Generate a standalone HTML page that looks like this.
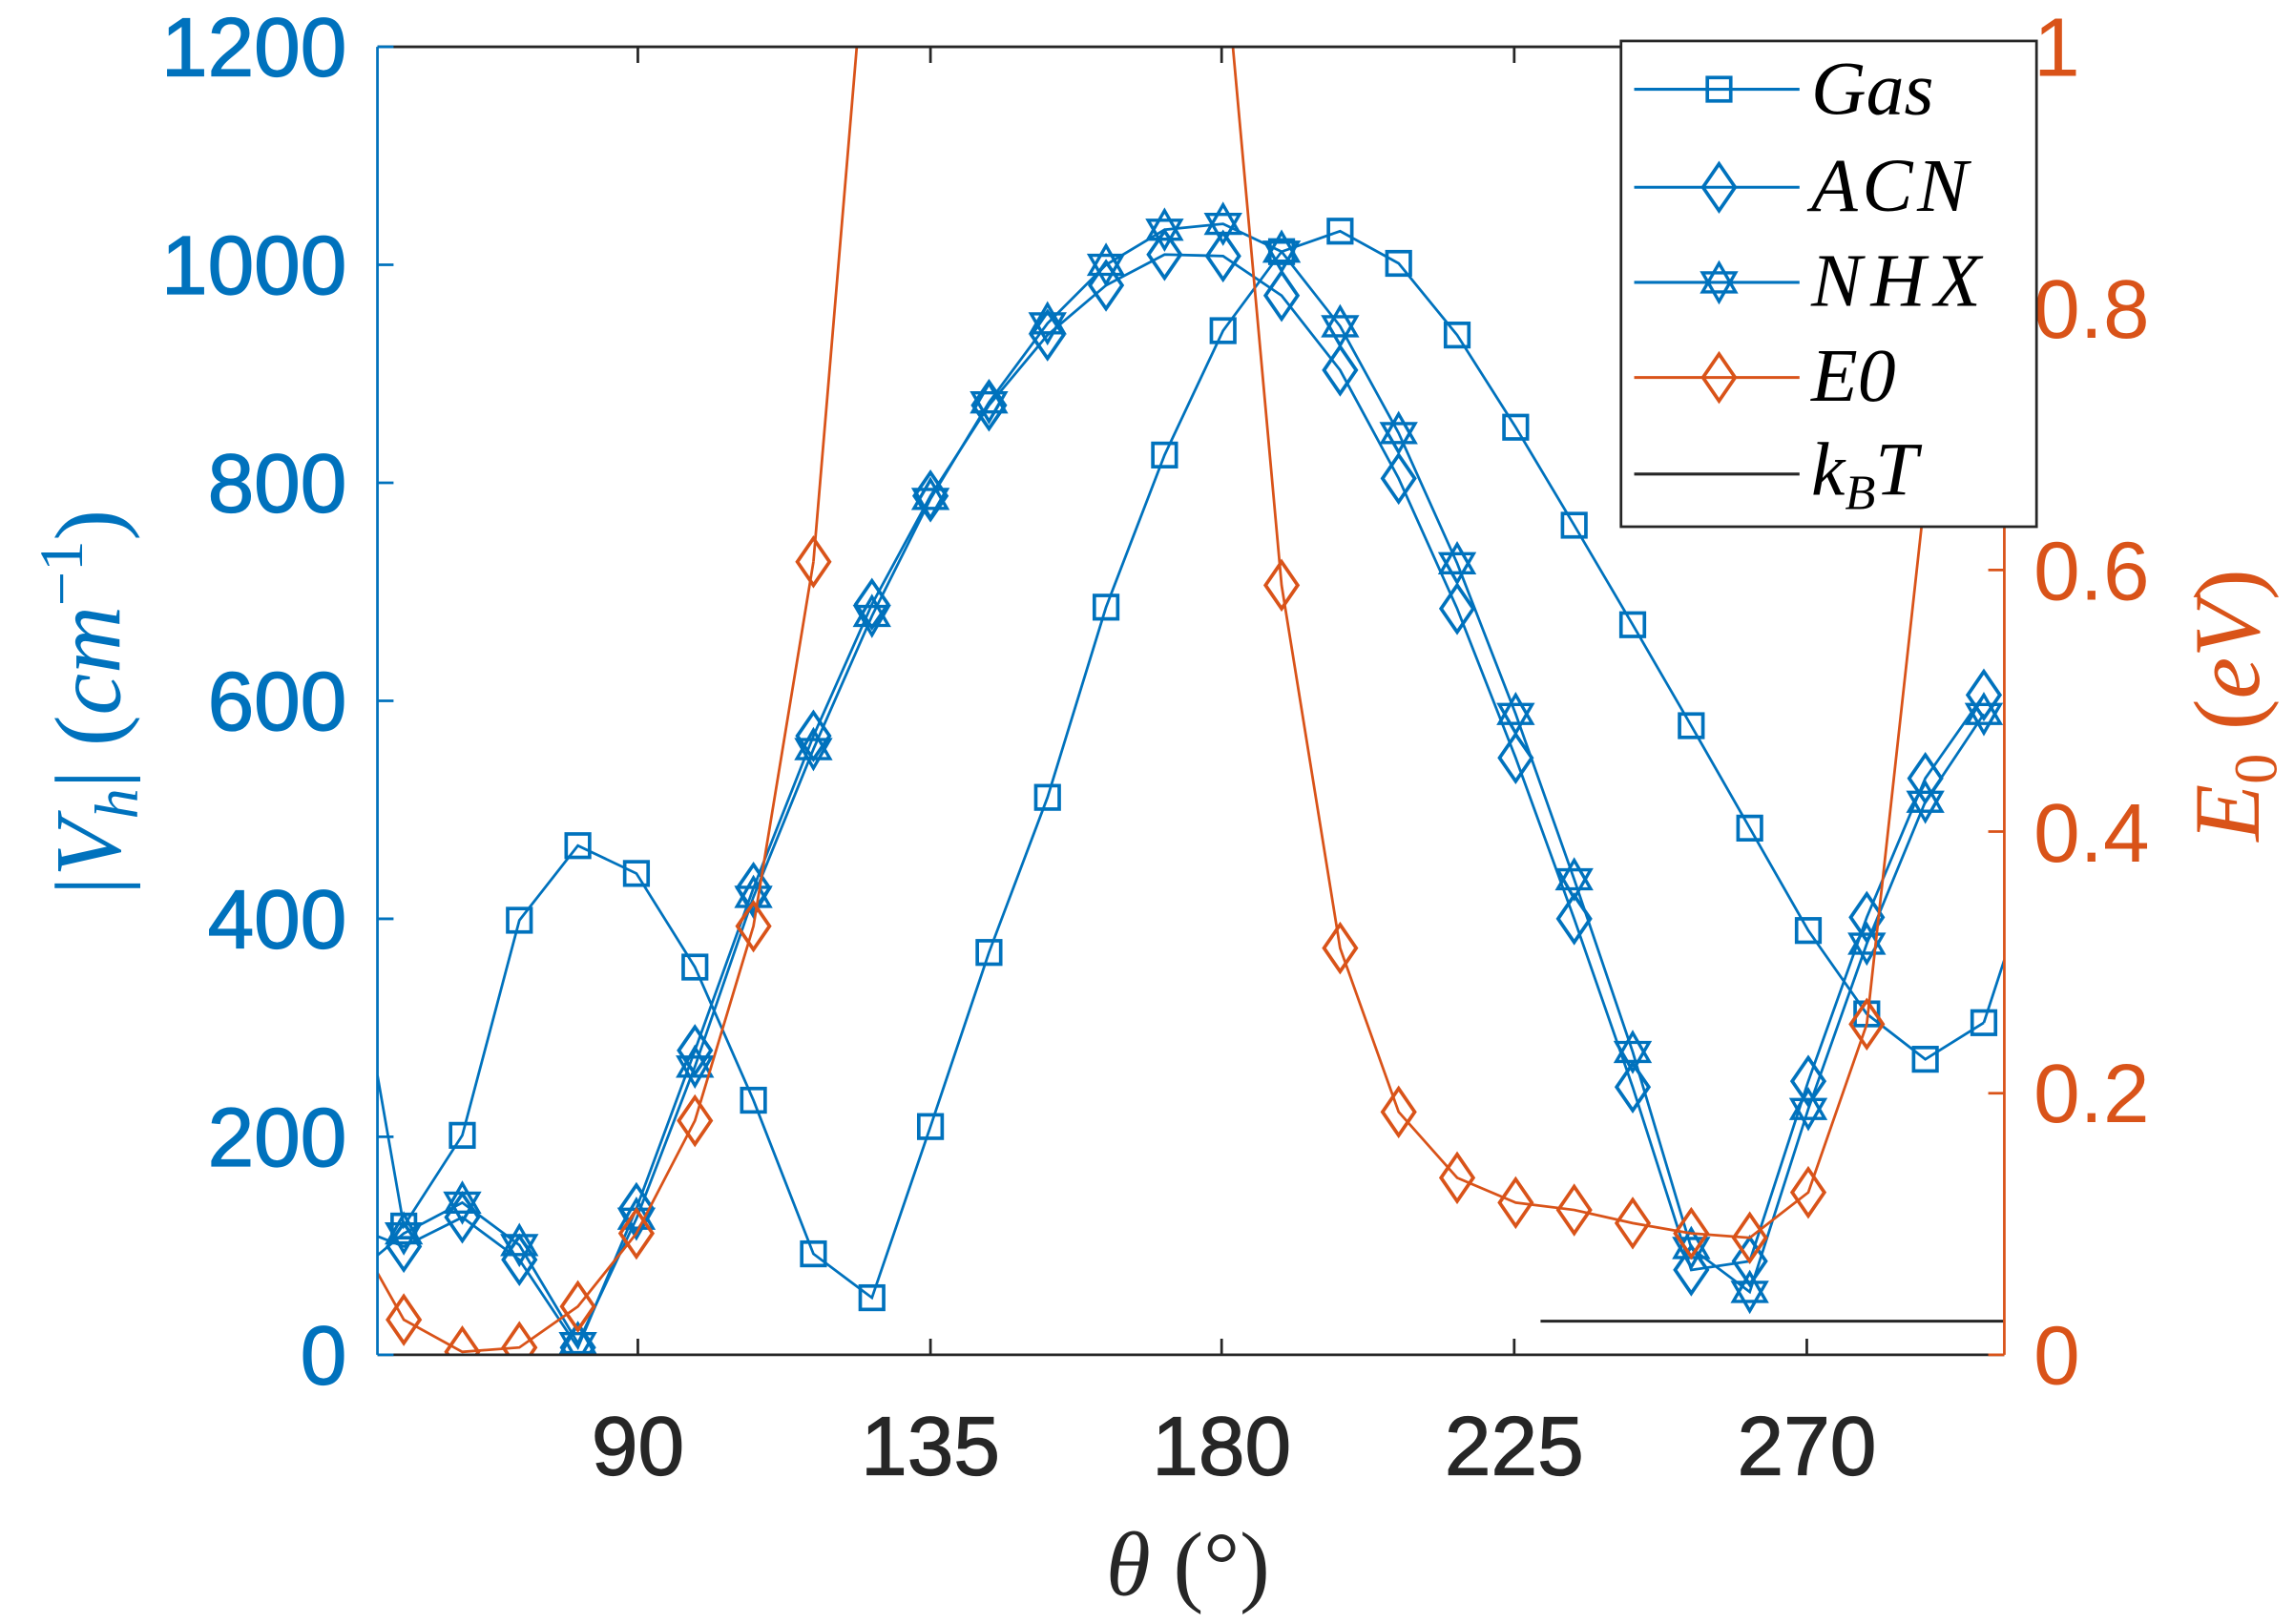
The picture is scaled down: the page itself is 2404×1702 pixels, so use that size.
<!DOCTYPE html>
<html><head><meta charset="utf-8"><style>
html,body{margin:0;padding:0;background:#fff;}
svg{display:block;}
</style></head><body>
<svg id="s" width="2404" height="1702" viewBox="0 0 1568 1110" preserveAspectRatio="none" xmlns="http://www.w3.org/2000/svg">
<defs><clipPath id="c"><rect x="258" y="32" width="1112" height="894"/></clipPath></defs>
<rect width="1568" height="1110" fill="#fff"/>
<g id="plot" clip-path="url(#c)" fill="none" stroke-width="1.8"></g>
<line x1="258" y1="32" x2="1370" y2="32" stroke="#262626" stroke-width="1.8"/>
<line x1="258" y1="926" x2="1370" y2="926" stroke="#262626" stroke-width="1.8"/>
<line x1="258" y1="32" x2="258" y2="926" stroke="#0072BD" stroke-width="1.8"/>
<line x1="1370" y1="32" x2="1370" y2="926" stroke="#D95319" stroke-width="1.8"/>
<g id="ticks" stroke-width="1.8"></g>
<g font-family="Liberation Sans, Arial, sans-serif" font-size="57" fill="#0072BD" stroke="#0072BD" stroke-width="0.8" text-anchor="end">
<text x="237" y="946">0</text><text x="237" y="797">200</text><text x="237" y="648">400</text><text x="237" y="499">600</text><text x="237" y="350">800</text><text x="237" y="201">1000</text><text x="237" y="52">1200</text>
</g>
<g font-family="Liberation Sans, Arial, sans-serif" font-size="57" fill="#D95319" text-anchor="start">
<text x="1390" y="946">0</text><text x="1390" y="767">0.2</text><text x="1390" y="589">0.4</text><text x="1390" y="410">0.6</text><text x="1390" y="231">0.8</text><text x="1390" y="52">1</text>
</g>
<g font-family="Liberation Sans, Arial, sans-serif" font-size="57" fill="#262626" stroke="#262626" stroke-width="0.8" text-anchor="middle">
<text x="436" y="1008">90</text><text x="636" y="1008">135</text><text x="835" y="1008">180</text><text x="1035" y="1008">225</text><text x="1235" y="1008">270</text>
</g>
<text x="812" y="1090" text-anchor="middle" font-family="Liberation Serif, serif" font-size="62" fill="#262626"><tspan font-style="italic">θ</tspan> (°)</text>
<text transform="translate(82,480) rotate(-90)" text-anchor="middle" font-family="Liberation Serif, serif" font-size="64" fill="#0072BD">|<tspan font-style="italic">V</tspan><tspan font-style="italic" font-size="42" dy="12">h</tspan><tspan dy="-12">| (</tspan><tspan font-style="italic">cm</tspan><tspan font-size="42" dy="-26">−1</tspan><tspan dy="26">)</tspan></text>
<text transform="translate(1544,482) rotate(-90)" text-anchor="middle" font-family="Liberation Serif, serif" font-size="64" fill="#D95319"><tspan font-style="italic">E</tspan><tspan font-size="42" dy="12">0</tspan><tspan dy="-12"> (</tspan><tspan font-style="italic">eV</tspan>)</text>
<g id="leg">
<rect x="1108" y="28" width="284" height="332" fill="#fff" stroke="#262626" stroke-width="1.8"/>
<g font-family="Liberation Serif, serif" font-style="italic" font-size="52" fill="#000">
<text x="1238" y="78">Gas</text>
<text x="1238" y="144" letter-spacing="3">ACN</text>
<text x="1238" y="209" letter-spacing="6">NHX</text>
<text x="1238" y="274">E0</text>
<text x="1238" y="338">k<tspan font-size="34" dy="10">B</tspan><tspan dy="-10">T</tspan></text>
</g>
</g>
<script>
const B="#0072BD",O="#D95319",NS="http://www.w3.org/2000/svg";
const P=document.getElementById('plot'),L=document.getElementById('leg'),T=document.getElementById('ticks');
function el(p,t,a){const e=document.createElementNS(NS,t);for(const k in a)e.setAttribute(k,a[k]);p.appendChild(e);return e;}
const X=[276,316,355,395,435,475,515,556,596,636,676,716,756,796,836,876,916,956,996,1036,1076,1116,1156,1196,1236,1276,1316,1356];
const gas=[838,776,629,578,597,661,752,857,887,770,651,545,415,311,226,172,158,180,229,292,359,427,496,566,636,693,724,699];
const acn=[852,832,861,921,826,718,607,503,413,339,277,229,195,174,175,202,253,327,416,518,628,743,868,862,739,627,532,475];
const nhx=[843,822,851,918,833,729,613,512,421,341,275,221,181,157,153,172,223,296,385,488,601,719,853,883,758,645,548,488];
function marker(p,type,x,y,c){
 if(type=='s')el(p,'rect',{x:x-8,y:y-8,width:16,height:16,stroke:c,fill:'none','stroke-width':2.4});
 else if(type=='d')el(p,'polygon',{points:`${x},${y-16} ${x+11},${y} ${x},${y+16} ${x-11},${y}`,stroke:c,fill:'none','stroke-width':2.4});
 else if(type=='h'){const r=13,pts1=[],pts2=[];for(let i=0;i<3;i++){let a=-Math.PI/2+i*2*Math.PI/3;pts1.push((x+r*Math.cos(a))+','+(y+r*Math.sin(a)));a+=Math.PI;pts2.push((x+r*Math.cos(a))+','+(y+r*Math.sin(a)));}
  el(p,'polygon',{points:pts1.join(' '),stroke:c,fill:'none','stroke-width':2.2});el(p,'polygon',{points:pts2.join(' '),stroke:c,fill:'none','stroke-width':2.2});}
}
function series(xs,ys,c,m,start){let pts=(start?[start]:[]).concat(xs.map((x,i)=>x+','+ys[i]));
 el(P,'polyline',{points:pts.join(' '),stroke:c,fill:'none','stroke-width':1.8});
 if(m)xs.forEach((x,i)=>marker(P,m,x,ys[i],c));}
series(X,gas,B,'s','258,735');el(P,'line',{x1:1356,y1:699,x2:1372,y2:650,stroke:B,'stroke-width':1.8});
series(X,acn,B,'d','258,845');
series(X,nhx,B,'h','258,858');
const ex=[276,316,355,395,435,475,515,556],ey=[902,924,921,893,843,766,633,384];
series(ex,ey,O,'d','258,870');
el(P,'polyline',{points:'556,384 590,-20',stroke:O,fill:'none','stroke-width':1.8});
const ex2=[876,916,956,996,1036,1076,1116,1156,1196,1236,1276],ey2=[400,648,760,805,822,827,836,843,846,815,700];
series(ex2,ey2,O,'d','838,-20');
el(P,'polyline',{points:'1276,700 1320,300 1340,100',stroke:O,fill:'none','stroke-width':1.8});
el(P,'line',{x1:1053,y1:903,x2:1370,y2:903,stroke:'#262626','stroke-width':2});
for(let i=0;i<=6;i++){const y=926-i*149;el(T,'line',{x1:258,y1:y,x2:269,y2:y,stroke:B});}
for(let i=0;i<=5;i++){const y=926-i*178.8;el(T,'line',{x1:1359,y1:y,x2:1370,y2:y,stroke:O});}
[436,636,835,1035,1235].forEach(x=>{el(T,'line',{x1:x,y1:926,x2:x,y2:915,stroke:'#262626'});el(T,'line',{x1:x,y1:32,x2:x,y2:43,stroke:'#262626'});});
const ly=[61,128,193,258,324],lm=['s','d','h','d',null],lc=[B,B,B,O,'#262626'];
ly.forEach((y,i)=>{el(L,'line',{x1:1117,y1:y,x2:1230,y2:y,stroke:lc[i],'stroke-width':2});if(lm[i])marker(L,lm[i],1175,y,lc[i]);});
</script>
</svg>
</body></html>
